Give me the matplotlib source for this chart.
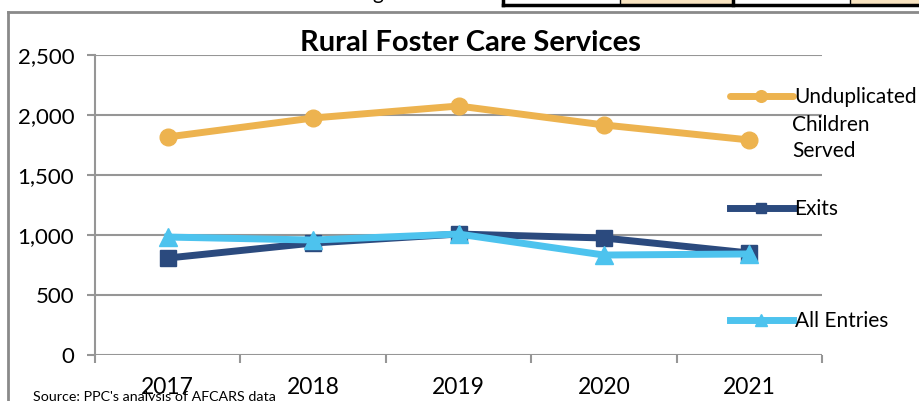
import matplotlib
matplotlib.use('Agg')
import matplotlib.pyplot as plt
from matplotlib.lines import Line2D
from matplotlib.patches import Rectangle
from matplotlib.ticker import FuncFormatter, FixedLocator

plt.rcParams['font.family'] = ['Lato', 'DejaVu Sans']

years = ['2017', '2018', '2019', '2020', '2021']
served = [1817, 1975, 2075, 1917, 1792]
exits = [808, 933, 1008, 975, 850]
entries = [983, 958, 1008, 833, 842]

gold = '#EDB34F'
navy = '#2B4A7E'
sky = '#4DC3EE'
grid_grey = '#969696'

fig = plt.figure(figsize=(9.19, 4.01), dpi=100)
W, H = 919, 401
ax = fig.add_axes([95 / W, 1 - 355 / H, (822 - 95) / W, 300 / H])

x = list(range(len(years)))
ax.plot(x, served, color=gold, lw=5, marker='o', ms=12, solid_capstyle='round',
        label='Unduplicated', zorder=3)
ax.plot(x, exits, color=navy, lw=5, marker='s', ms=11, label='Exits', zorder=3)
ax.plot(x, entries, color=sky, lw=5, marker='^', ms=13, label='All Entries', zorder=4)

ax.set_xlim(-0.5, 4.5)
ax.set_ylim(0, 2500)
ax.set_yticks([0, 500, 1000, 1500, 2000, 2500])
ax.yaxis.set_major_formatter(FuncFormatter(lambda v, p: f'{int(v):,}'))
ax.set_xticks(x)
ax.set_xticklabels(years)
ax.xaxis.set_minor_locator(FixedLocator([-0.5, 0.5, 1.5, 2.5, 3.5, 4.5]))
ax.tick_params(axis='x', which='major', length=0, pad=16, labelsize=16.5)
ax.tick_params(axis='x', which='minor', length=6, width=1.5, color=grid_grey)
ax.tick_params(axis='y', length=6, width=1.5, color=grid_grey, pad=9, labelsize=16)
ax.grid(axis='y', color=grid_grey, lw=1.5)
ax.set_axisbelow(True)
for s in ['top', 'right']:
    ax.spines[s].set_visible(False)
for s in ['left', 'bottom']:
    ax.spines[s].set_color(grid_grey)
    ax.spines[s].set_linewidth(1.5)
ax.spines['bottom'].set_visible(False)

leg = ax.legend(loc='upper left', bbox_to_anchor=(730 / W, 1 - 87 / H),
                bbox_transform=fig.transFigure, frameon=False, fontsize=15,
                handlelength=3.0, handletextpad=0.1, labelspacing=4.42,
                borderpad=0, borderaxespad=0, markerscale=0.7)
leg.set_zorder(5)
fig.text(792 / W, 1 - 138 / H, 'Children\nServed', fontsize=15, va='center',
         ha='left', linespacing=1.42)

fig.text(470 / W, 1 - 43 / H, 'Rural Foster Care Services', fontsize=21,
         fontweight='bold', ha='center', va='center')
fig.text(33 / W, 1 - 391 / H, "Source: PPC's analysis of AFCARS data", fontsize=10.3,
         ha='left', va='top')
# tail of the caption above the chart, cut off by the crop
fig.text(372 / W, 1 + 1 / H, 'g', fontsize=15, ha='left', va='baseline')

# frame of the chart and the table above it
fig.add_artist(Line2D([8 / W, 8 / W], [0, 1 - 12 / H], transform=fig.transFigure,
                      color='#8a8a8a', lw=2))
fig.add_artist(Line2D([8 / W, 1], [1 - 12 / H, 1 - 12 / H], transform=fig.transFigure,
                      color='#8a8a8a', lw=2))
fig.add_artist(Rectangle((620 / W, 1 - 5 / H), 113 / W, 5 / H, transform=fig.transFigure,
                         color='#F8E3C0', lw=0))
fig.add_artist(Rectangle((850 / W, 1 - 5 / H), 69 / W, 5 / H, transform=fig.transFigure,
                         color='#F8E3C0', lw=0))
fig.add_artist(Line2D([503 / W, 1], [1 - 5 / H, 1 - 5 / H], transform=fig.transFigure,
                      color='black', lw=2.5))
for xv in [503, 620, 733, 850]:
    fig.add_artist(Line2D([xv / W, xv / W], [1 - 5 / H, 1], transform=fig.transFigure,
                          color='black', lw=2.5 if xv in (503, 733) else 1))

fig.savefig('out.png', dpi=100)
